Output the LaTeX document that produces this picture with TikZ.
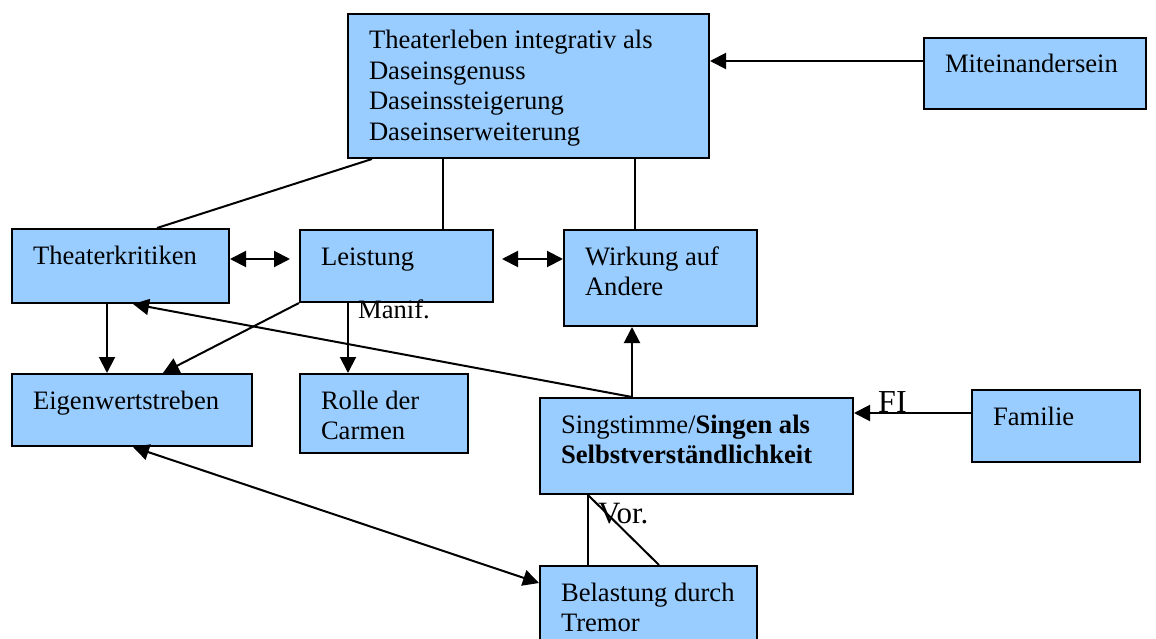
\documentclass[tikz,border=0pt]{standalone}
\usepackage{fontspec}
\setmainfont{Liberation Serif}
\usetikzlibrary{arrows.meta,calc}
\definecolor{boxblue}{HTML}{99CCFF}
\newcommand\bt[3]{\parbox[t][#2][t]{#1}{\raggedright\leftskip=21pt\rule{0pt}{35pt}#3}}
\tikzset{
  box/.style={draw, fill=boxblue, line width=2pt, inner sep=0pt, anchor=north west,
    font=\fontsize{26.6}{30.5}\selectfont},
  conn/.style={line width=2pt, arrows={-Triangle[length=16pt,width=16pt]}},
  dconn/.style={line width=2pt, arrows={Triangle[length=16pt,width=16pt]-Triangle[length=16pt,width=16pt]}},
  plain/.style={line width=2pt},
  lbl/.style={inner sep=0pt, anchor=base west}
}
\begin{document}
\begin{tikzpicture}[x=1pt,y=-1pt]
\clip (0,0) rectangle (1156,639);
\fill[white] (0,0) rectangle (1156,639);
% boxes
\node[box] (tl) at (347,13) {\bt{361pt}{144pt}{Theaterleben integrativ als\\Daseinsgenuss\\Daseinssteigerung\\Daseinserweiterung}};
\node[box] (mit) at (923,37) {\bt{222pt}{71pt}{Miteinandersein}};
\node[box] (tk) at (11,228) {\bt{217pt}{74pt}{Theaterkritiken}};
\node[box] (le) at (299,229) {\bt{193pt}{72pt}{Leistung}};
\node[box] (wi) at (563,229) {\bt{193pt}{96pt}{Wirkung auf\\Andere}};
\node[box] (ei) at (11,373) {\bt{240pt}{72pt}{Eigenwertstreben}};
\node[box] (ro) at (299,373) {\bt{168pt}{79pt}{Rolle der\\Carmen}};
\node[box] (si) at (539,397) {\bt{313pt}{96pt}{Singstimme/\textbf{Singen als}\\\textbf{Selbstverständlichkeit}}};
\node[box] (fa) at (971,389) {\bt{168pt}{72pt}{Familie}};
\node[box] (be) at (539,565) {\bt{217pt}{85pt}{Belastung durch\\Tremor}};
% connectors
\draw[conn] ($(mit.north west)+(0,24)$) -- ($(tl.north east)+(0,48)$);
\draw[plain] ($(tl.south west)+(25,0)$) -- ($(tk.north west)+(146,0)$);
\draw[plain] ($(tl.south west)+(96,0)$) -- ($(le.north west)+(144,0)$);
\draw[plain] ($(tl.south west)+(288,0)$) -- ($(wi.north west)+(72,0)$);
\draw[dconn] ($(tk.north east)+(0,31)$) -- ($(le.north west)+(-9,30)$);
\draw[dconn] ($(le.north east)+(8,30)$) -- ($(wi.north west)+(0,30)$);
\draw[conn] ($(tk.south west)+(96,0)$) -- ($(ei.north west)+(96,0)$);
\draw[conn] (le.south west) -- ($(ei.north west)+(152,0)$);
\draw[conn] ($(le.south west)+(49,0)$) -- ($(ro.north west)+(49,0)$);
\draw[conn] ($(si.north west)+(93,0)$) -- ($(tk.south west)+(122,0)$);
\draw[conn] ($(si.north west)+(93,0)$) -- ($(wi.south west)+(69,0)$);
\draw[conn] ($(fa.north west)+(0,24)$) -- ($(si.north east)+(0,16)$);
\draw[dconn] ($(be.north west)+(0,18)$) -- ($(ei.south west)+(122,0)$);
\draw[plain] ($(si.south west)+(49,0)$) -- ($(be.north west)+(49,0)$);
\draw[plain] ($(si.south west)+(49,0)$) -- ($(be.north west)+(120,0)$);
% labels
\node[lbl, font=\fontsize{26.6}{30}\selectfont] (manif) at (358,318) {Manif.};
\node[lbl, font=\fontsize{32}{36}\selectfont] (fi) at (878,412) {FI};
\node[lbl, font=\fontsize{31}{36}\selectfont] (vor) at (598,523) {Vor.};
\end{tikzpicture}
\end{document}
